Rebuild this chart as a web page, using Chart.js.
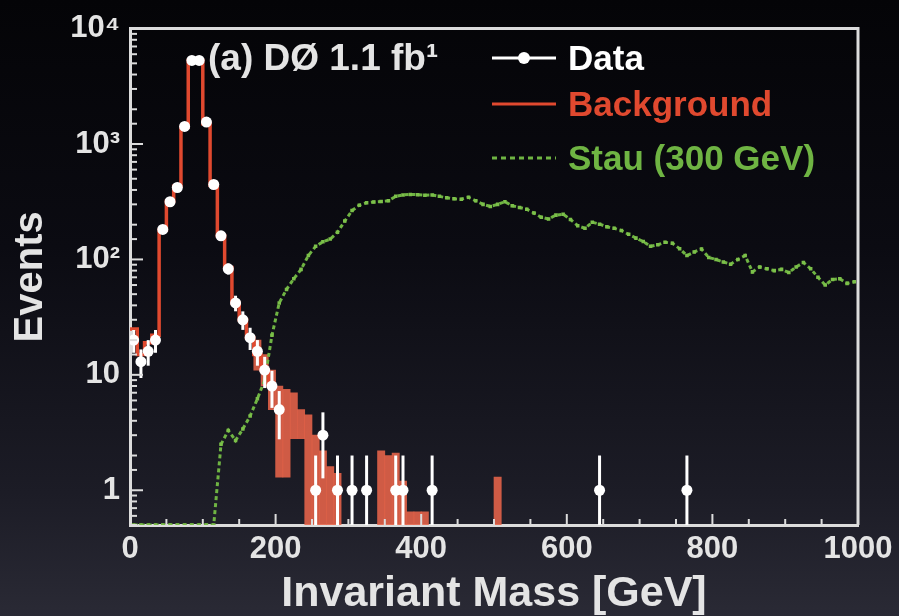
<!DOCTYPE html>
<html>
<head>
<meta charset="utf-8">
<script src="https://cdn.jsdelivr.net/npm/chart.js@4.4.1/dist/chart.umd.min.js"></script>
<style>
  html, body { margin: 0; padding: 0; }
  body {
    width: 899px; height: 616px; overflow: hidden;
    background: linear-gradient(180deg, #040407 0%, #0b0b12 40%, #1c1c26 80%, #2a2a35 100%);
  }
  #wrap { width: 899px; height: 616px; }
</style>
</head>
<body>
<div id="wrap"><canvas id="massChart" width="899" height="616"></canvas></div>
<script>
// data points (bin centres, GeV) and event counts
const dataMass = [5, 15, 25, 35, 45, 55, 65, 75, 85, 95, 105, 115, 125, 135, 145, 155, 165, 175, 185, 195, 205,
    255, 265, 285, 305, 325, 365, 375, 415, 645, 765];
const dataEvents = [20, 13, 16, 20, 182, 316, 420, 1420, 5300, 5300, 1550, 446, 160, 83, 42, 30, 21, 16, 11, 8, 5,
    1, 3, 1, 1, 1, 1, 1, 1, 1, 1];

// background histogram, left bin edges
const bgMass = [0, 10, 20, 30, 40, 50, 60, 70, 80, 90, 100, 110, 120, 130, 140, 150, 160, 170, 180, 190, 200];
const bgEvents = [25, 15, 19, 22, 180, 320, 430, 1400, 5300, 5300, 1500, 440, 160, 85, 42, 30, 21, 15, 11, 8, 8];

// background uncertainty band in the tail
const bandMass = [175, 185, 195, 205, 215, 225, 235, 245, 255, 265, 275, 285, 345, 355, 365, 375, 385, 395, 405, 505];
const bandLow = [11, 8, 5, 1.3, 1.3, 2.8, 2.8, 0.5, 0.5, 0.5, 0.5, 0.5, 0.5, 0.5, 0.5, 0.5, 0.5, 0.5, 0.5, 0.5];
const bandHigh = [20, 15, 11, 8, 7.5, 7, 5, 4.5, 3, 2.2, 1.6, 1.4, 2.2, 2.0, 2.1, 1.2, 0.65, 0.65, 0.65, 1.3];

// stau signal (300 GeV)
const stauMass = [
    5, 15, 25, 35, 45, 55, 65, 75, 85, 95,
    105, 115, 125, 135, 145, 155, 165, 175, 185, 195,
    205, 215, 225, 235, 245, 255, 265, 275, 285, 295,
    305, 315, 325, 335, 345, 355, 365, 375, 385, 395,
    405, 415, 425, 435, 445, 455, 465, 475, 485, 495,
    505, 515, 525, 535, 545, 555, 565, 575, 585, 595,
    605, 615, 625, 635, 645, 655, 665, 675, 685, 695,
    705, 715, 725, 735, 745, 755, 765, 775, 785, 795,
    805, 815, 825, 835, 845, 855, 865, 875, 885, 895,
    905, 915, 925, 935, 945, 955, 965, 975, 985, 995];
const stauEvents = [
    0.5, 0.5, 0.5, 0.5, 0.5, 0.5, 0.5, 0.5, 0.5, 0.5,
    0.5, 0.5, 2.5, 3.3, 2.7, 3.4, 4.4, 6.2, 9, 22,
    42, 55, 68, 82, 108, 130, 142, 150, 172, 215,
    265, 295, 310, 315, 318, 322, 352, 362, 366, 364,
    360, 362, 352, 342, 335, 332, 345, 322, 300, 288,
    300, 316, 292, 282, 272, 252, 232, 224, 242, 246,
    222, 196, 186, 210, 202, 192, 186, 178, 165, 153,
    143, 130, 134, 141, 138, 124, 108, 116, 123, 104,
    100, 95, 91, 100, 108, 78, 86, 83, 80, 82,
    77, 86, 94, 83, 70, 60, 67, 68, 62, 64];

const yLabels = { 1: '1', 10: '10', 100: '10²', 1000: '10³', 10000: '10⁴' };

const FONT = '"Liberation Sans", Arial, sans-serif';
const AXIS = '#dcdcdc';
const TEXT = '#e4e4e4';
const RED = '#e0492f';
const GREEN = '#6fb443';

// inward tick marks, frame and error bars
const framePlugin = {
    id: 'frame',
    afterDatasetsDraw(chart) {
        const { ctx, chartArea: a, scales: { x, y } } = chart;
        ctx.save();

        ctx.strokeStyle = '#ffffff';
        ctx.lineWidth = 3;
        dataEvents.forEach((v, i) => {
            const err = Math.sqrt(v);
            const px = x.getPixelForValue(dataMass[i]);
            const lo = Math.max(v - err, y.min);
            ctx.beginPath();
            ctx.moveTo(px, Math.min(y.getPixelForValue(lo), a.bottom));
            ctx.lineTo(px, y.getPixelForValue(v + err));
            ctx.stroke();
        });

        ctx.strokeStyle = AXIS;
        ctx.lineWidth = 2;
        y.ticks.forEach(t => {
            const py = y.getPixelForValue(t.value);
            if (py < a.top || py > a.bottom) return;
            const len = yLabels[t.value] ? 13 : 7;
            ctx.beginPath();
            ctx.moveTo(a.left, py);
            ctx.lineTo(a.left + len, py);
            ctx.stroke();
        });
        x.ticks.forEach(t => {
            const px = x.getPixelForValue(t.value);
            const len = t.value % 200 === 0 ? 11 : 6;
            ctx.beginPath();
            ctx.moveTo(px, a.bottom);
            ctx.lineTo(px, a.bottom - len);
            ctx.stroke();
        });

        ctx.lineWidth = 3;
        ctx.beginPath();
        ctx.moveTo(a.left, a.top);
        ctx.lineTo(a.right, a.top);
        ctx.lineTo(a.right, a.bottom);
        ctx.stroke();
        ctx.restore();
    },
    afterDraw(chart) {
        const ctx = chart.ctx;
        ctx.save();
        ctx.textBaseline = 'middle';
        ctx.font = 'bold 37px ' + FONT;
        ctx.fillStyle = TEXT;
        ctx.fillText('(a) DØ 1.1 fb¹', 208, 60);

        // legend
        ctx.font = 'bold 35px ' + FONT;
        ctx.lineWidth = 3;
        ctx.strokeStyle = '#ffffff';
        ctx.beginPath(); ctx.moveTo(492, 58); ctx.lineTo(556, 58); ctx.stroke();
        ctx.fillStyle = '#ffffff';
        ctx.beginPath(); ctx.arc(524, 58, 6, 0, Math.PI * 2); ctx.fill();
        ctx.fillText('Data', 568, 60);

        ctx.strokeStyle = RED;
        ctx.beginPath(); ctx.moveTo(492, 104); ctx.lineTo(556, 104); ctx.stroke();
        ctx.fillStyle = RED;
        ctx.fillText('Background', 568, 106);

        ctx.strokeStyle = GREEN;
        ctx.setLineDash([5, 4]);
        ctx.beginPath(); ctx.moveTo(492, 158); ctx.lineTo(556, 158); ctx.stroke();
        ctx.setLineDash([]);
        ctx.fillStyle = GREEN;
        ctx.fillText('Stau (300 GeV)', 568, 160);
        ctx.restore();
    }
};

const ctx = document.getElementById('massChart').getContext('2d');

new Chart(ctx, {
    type: 'line',
    data: {
        datasets: [
            {
                label: 'Data',
                data: dataMass.map((m, i) => ({ x: m, y: dataEvents[i] })),
                showLine: false,
                pointRadius: 5.5,
                pointBackgroundColor: '#ffffff',
                pointBorderWidth: 0,
                order: 0
            },
            {
                label: 'Background',
                data: bgMass.map((m, i) => ({ x: m, y: bgEvents[i] })),
                stepped: 'before',
                borderColor: RED,
                borderWidth: 3.5,
                pointRadius: 0,
                order: 1
            },
            {
                label: 'Stau (300 GeV)',
                data: stauMass.map((m, i) => ({ x: m, y: stauEvents[i] })),
                borderColor: GREEN,
                borderWidth: 3,
                borderDash: [4, 3],
                pointStyle: 'rect',
                pointRadius: 2.5,
                pointBackgroundColor: '#7cc04a',
                pointBorderWidth: 0,
                order: 2
            },
            {
                type: 'bar',
                label: 'Background band',
                data: bandMass.map((m, i) => ({ x: m, y: [bandLow[i], bandHigh[i]] })),
                backgroundColor: 'rgba(232, 100, 74, 0.88)',
                borderWidth: 0,
                barPercentage: 1,
                categoryPercentage: 1,
                order: 3
            }
        ]
    },
    options: {
        responsive: false,
        animation: false,
        devicePixelRatio: 1,
        layout: { padding: { top: 18, right: 41, left: 0, bottom: 0 } },
        plugins: {
            legend: { display: false },
            tooltip: { enabled: false }
        },
        scales: {
            x: {
                type: 'linear',
                min: 0,
                max: 1000,
                offset: false,
                grid: { display: false, drawTicks: false, offset: false },
                border: { display: true, color: AXIS, width: 3 },
                ticks: {
                    stepSize: 50,
                    autoSkip: false,
                    maxRotation: 0,
                    padding: 6,
                    color: TEXT,
                    font: { family: FONT, size: 31, weight: 'bold' },
                    callback: v => (v % 200 === 0 ? String(v) : '')
                },
                title: {
                    display: true,
                    text: 'Invariant Mass [GeV]',
                    color: TEXT,
                    font: { family: FONT, size: 43, weight: 'bold', lineHeight: 1 },
                    padding: { top: 0, bottom: 0 }
                },
                afterFit: s => { s.height = 91; }
            },
            y: {
                type: 'logarithmic',
                min: 0.5,
                max: 10000,
                grid: { display: false, drawTicks: false },
                border: { display: true, color: AXIS, width: 3 },
                ticks: {
                    autoSkip: false,
                    padding: 10,
                    color: TEXT,
                    font: { family: FONT, size: 31, weight: 'bold' },
                    callback: v => yLabels[v] || ''
                },
                title: {
                    display: true,
                    text: 'Events',
                    color: TEXT,
                    font: { family: FONT, size: 40, weight: 'bold', lineHeight: 1 },
                    padding: { top: 11, bottom: 0 }
                },
                afterFit: s => { s.width = 130; }
            }
        }
    },
    plugins: [framePlugin]
});
</script>
</body>
</html>
